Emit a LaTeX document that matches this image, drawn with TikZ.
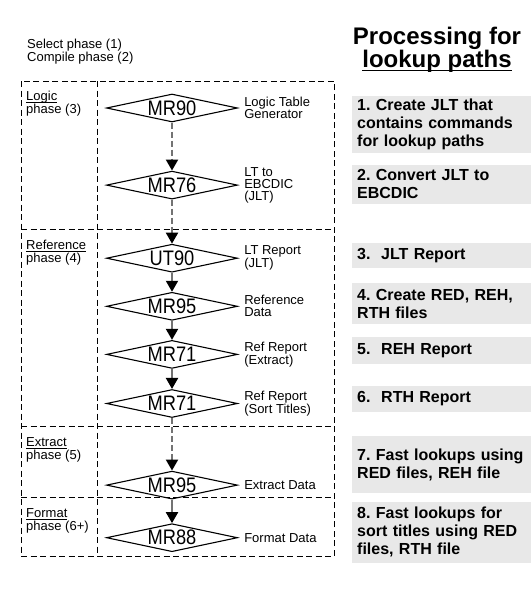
\documentclass[tikz,border=0pt]{standalone}
\usepackage{fontspec}
\setmainfont{Liberation Sans}
\usetikzlibrary{shapes.geometric, arrows.meta, positioning}
\frenchspacing

% text with a rule below it: depth, thickness, text
\newcommand{\ulined}[3]{\setbox0\hbox{#3}\rlap{\raisebox{-#1}{\rule{\wd0}{#2}}}\box0}
% narrow program name
\newcommand{\progname}[1]{\scalebox{0.87}[1]{#1}}

\begin{document}
\begin{tikzpicture}[x=1pt, y=-1pt,
  prog/.style={diamond, draw, line width=1.1pt, aspect=4.7, inner sep=0pt, minimum width=131pt, minimum height=28pt, font=\fontsize{21}{21}\selectfont},
  desc/.style={align=left, inner sep=0pt, font=\fontsize{13}{12}\selectfont},
  phaselabel/.style={anchor=north west, align=left, inner sep=0pt, font=\fontsize{13}{11.5}\selectfont},
  phase/.style={draw, line width=0.9pt, dash pattern=on 6pt off 3.5pt},
  notebox/.style={anchor=north west, fill=black!9, text width=169pt, inner xsep=5pt, inner ysep=0pt, align=left, font=\fontsize{16}{18}\selectfont\bfseries},
  flow/.style={draw=black!55, line width=2pt, -{Triangle[width=12pt, length=11pt, color=black]}},
  flowdash/.style={flow, dash pattern=on 6pt off 3pt}]

\useasboundingbox (0,0) rectangle (532,602);

% phase frames
\draw[phase] (21,81) rectangle (334,556);
\draw[phase] (97,81) -- (97,556);
\foreach \y in {229.6, 426.3, 497.5}
  \draw[phase] (21,\y) -- (334,\y);

\node[phaselabel] (pre) at (27,39) {Select phase (1)\\Compile phase (2)};
\node[phaselabel] (logic) at (26,91) {\ulined{2.5pt}{0.8pt}{Logic}\\phase (3)};
\node[phaselabel] (reference) at (26,240) {\ulined{2.5pt}{0.8pt}{Reference}\\phase (4)};
\node[phaselabel] (extract) at (26,437) {\ulined{2.5pt}{0.8pt}{Extract}\\phase (5)};
\node[phaselabel] (format) at (26,508) {\ulined{2.5pt}{0.8pt}{Format}\\phase (6+)};

% programs
\node[prog] (mr90) at (172,108) {\progname{MR90}};
\node[prog, below=48pt of mr90] (mr76) {\progname{MR76}};
\node[prog, below=44pt of mr76] (ut90) {\progname{UT90}};
\node[prog, below=19pt of ut90] (mr95) {\progname{MR95}};
\node[prog, below=19pt of mr95] (mr71) {\progname{MR71}};
\node[prog, below=20pt of mr71] (mr71s) {\progname{MR71}};
\node[prog, below=52.5pt of mr71s] (mr95x) {\progname{MR95}};
\node[prog, below=23.5pt of mr95x] (mr88) {\progname{MR88}};

\node[desc, right=6pt of mr90] (mr90d) {Logic Table\\Generator};
\node[desc, right=6pt of mr76] (mr76d) {LT to\\EBCDIC\\(JLT)};
\node[desc, right=6pt of ut90] (ut90d) {LT Report\\(JLT)};
\node[desc, right=6pt of mr95] (mr95d) {Reference\\Data};
\node[desc, right=6pt of mr71] (mr71d) {Ref Report\\(Extract)};
\node[desc, right=6pt of mr71s] (mr71sd) {Ref Report\\(Sort Titles)};
\node[desc, right=6pt of mr95x] (mr95xd) {Extract Data};
\node[desc, right=6pt of mr88] (mr88d) {Format Data};

\draw[flowdash] (mr90) -- (mr76);
\draw[flowdash] (mr76) -- (ut90);
\draw[flow] (ut90) -- (mr95);
\draw[flow] (mr95) -- (mr71);
\draw[flow] (mr71) -- (mr71s);
\draw[flowdash] (mr71s) -- (mr95x);
\draw[flow] (mr95x) -- (mr88);

% processing notes
\node[font=\fontsize{24}{22}\selectfont\bfseries, align=center] (title) at (437,50) {Processing for\\\ulined{3.5pt}{1.8pt}{lookup paths}};

\node[notebox, minimum height=57pt] (note1) at (352,96) {1. Create JLT that\\contains commands\\for lookup paths};
\node[notebox, minimum height=39pt] (note2) at (352,164.5) {2. Convert JLT to\\EBCDIC};
\node[notebox, minimum height=24.5pt] (note3) at (352,243) {3.~ JLT Report};
\node[notebox, minimum height=40.7pt] (note4) at (352,283) {4. Create RED, REH,\\RTH files};
\node[notebox, minimum height=27pt] (note5) at (352,337) {5.~ REH Report};
\node[notebox, minimum height=25.7pt] (note6) at (352,386) {6.~ RTH Report};
\node[notebox, minimum height=57.5pt] (note7) at (352,435.5) {7. Fast lookups using\\RED files, REH file};
\node[notebox, minimum height=61pt] (note8) at (352,501.6) {8. Fast lookups for\\sort titles using RED\\files, RTH file};

\end{tikzpicture}
\end{document}
